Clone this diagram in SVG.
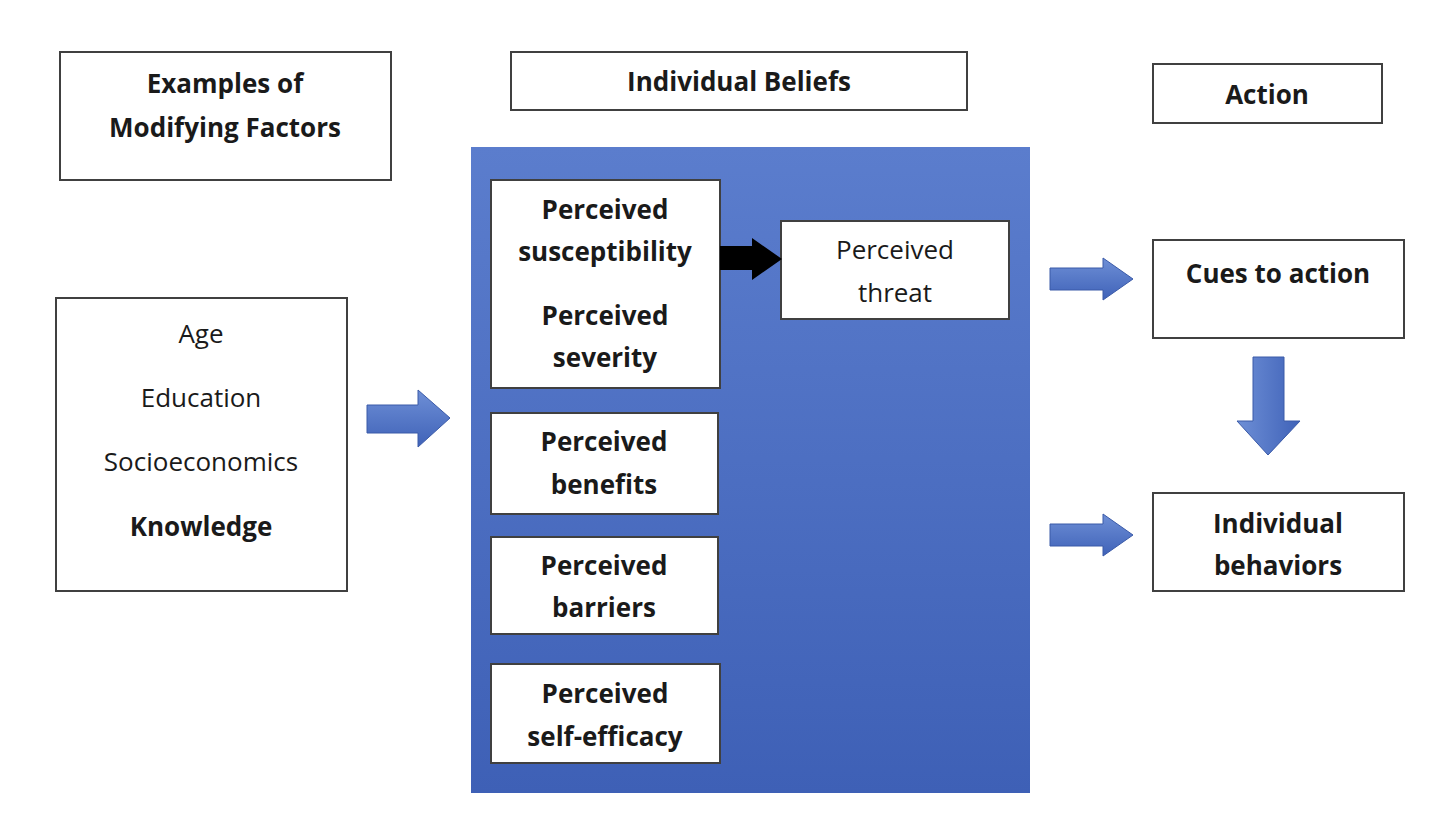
<svg xmlns="http://www.w3.org/2000/svg" width="1440" height="815" viewBox="0 0 1440 815">
<defs>
<linearGradient id="bg" x1="0" y1="0" x2="0" y2="1"><stop offset="0" stop-color="#5b7dcd"/><stop offset="1" stop-color="#3e60b6"/></linearGradient>
<linearGradient id="ar" x1="0" y1="0" x2="0" y2="1"><stop offset="0" stop-color="#6e8fd6"/><stop offset="1" stop-color="#3f62b8"/></linearGradient>
<linearGradient id="ard" x1="0" y1="0" x2="1" y2="0"><stop offset="0" stop-color="#6e8fd6"/><stop offset="1" stop-color="#3f62b8"/></linearGradient>
</defs>
<style>
.b{fill:#fff;stroke:#404040;stroke-width:2}
text{font-family:"Open Sans","Liberation Sans",sans-serif;font-size:26px;fill:#1a1a1a;text-anchor:middle;dominant-baseline:middle}
.bd{font-weight:bold}
.ba{fill:url(#ar);stroke:#3a5aa8;stroke-width:1}
</style>
<rect width="1440" height="815" fill="#fff"/>
<g id="panel"><rect x="471" y="147" width="559" height="646" fill="url(#bg)"/></g>
<g id="h1"><rect class="b" x="60" y="52" width="331" height="128"/><text class="bd" x="225" y="86">Examples of</text><text class="bd" x="225" y="130">Modifying Factors</text></g>
<g id="h2"><rect class="b" x="511" y="52" width="456" height="58"/><text class="bd" x="739" y="84">Individual Beliefs</text></g>
<g id="h3"><rect class="b" x="1153" y="64" width="229" height="59"/><text class="bd" x="1267" y="97">Action</text></g>
<g id="factors"><rect class="b" x="56" y="298" width="291" height="293"/><text x="201" y="336">Age</text><text x="201" y="400">Education</text><text x="201" y="464">Socioeconomics</text><text class="bd" x="201" y="529">Knowledge</text></g>
<g id="suscsev"><rect class="b" x="491" y="180" width="229" height="208"/><text class="bd" x="605" y="212">Perceived</text><text class="bd" x="605" y="254">susceptibility</text><text class="bd" x="605" y="318">Perceived</text><text class="bd" x="605" y="360">severity</text></g>
<g id="threat"><rect class="b" x="781" y="221" width="228" height="98"/><text x="895" y="252">Perceived</text><text x="895" y="295">threat</text></g>
<g id="benefits"><rect class="b" x="491" y="413" width="227" height="101"/><text class="bd" x="604" y="444">Perceived</text><text class="bd" x="604" y="487">benefits</text></g>
<g id="barriers"><rect class="b" x="491" y="537" width="227" height="97"/><text class="bd" x="604" y="568">Perceived</text><text class="bd" x="604" y="610">barriers</text></g>
<g id="efficacy"><rect class="b" x="491" y="664" width="229" height="99"/><text class="bd" x="605" y="696">Perceived</text><text class="bd" x="605" y="739">self-efficacy</text></g>
<g id="cues"><rect class="b" x="1153" y="240" width="251" height="98"/><text class="bd" x="1278" y="276">Cues to action</text></g>
<g id="behaviors"><rect class="b" x="1153" y="493" width="251" height="98"/><text class="bd" x="1278" y="526">Individual</text><text class="bd" x="1278" y="568">behaviors</text></g>
<g id="connectors">
<polygon class="ba" points="367,405 418,405 418,390 450,418 418,447 418,433 367,433"/>
<polygon fill="#000" points="720,246 752,246 752,238 782,259 752,280 752,270 720,270"/>
<polygon class="ba" points="1050,268 1103,268 1103,258 1133,279 1103,300 1103,290 1050,290"/>
<polygon class="ba" points="1050,524 1103,524 1103,514 1133,535 1103,556 1103,546 1050,546"/>
<polygon fill="url(#ard)" stroke="#3a5aa8" points="1253,357 1284,357 1284,421 1300,421 1268,455 1237,421 1253,421"/>
</g>
</svg>
